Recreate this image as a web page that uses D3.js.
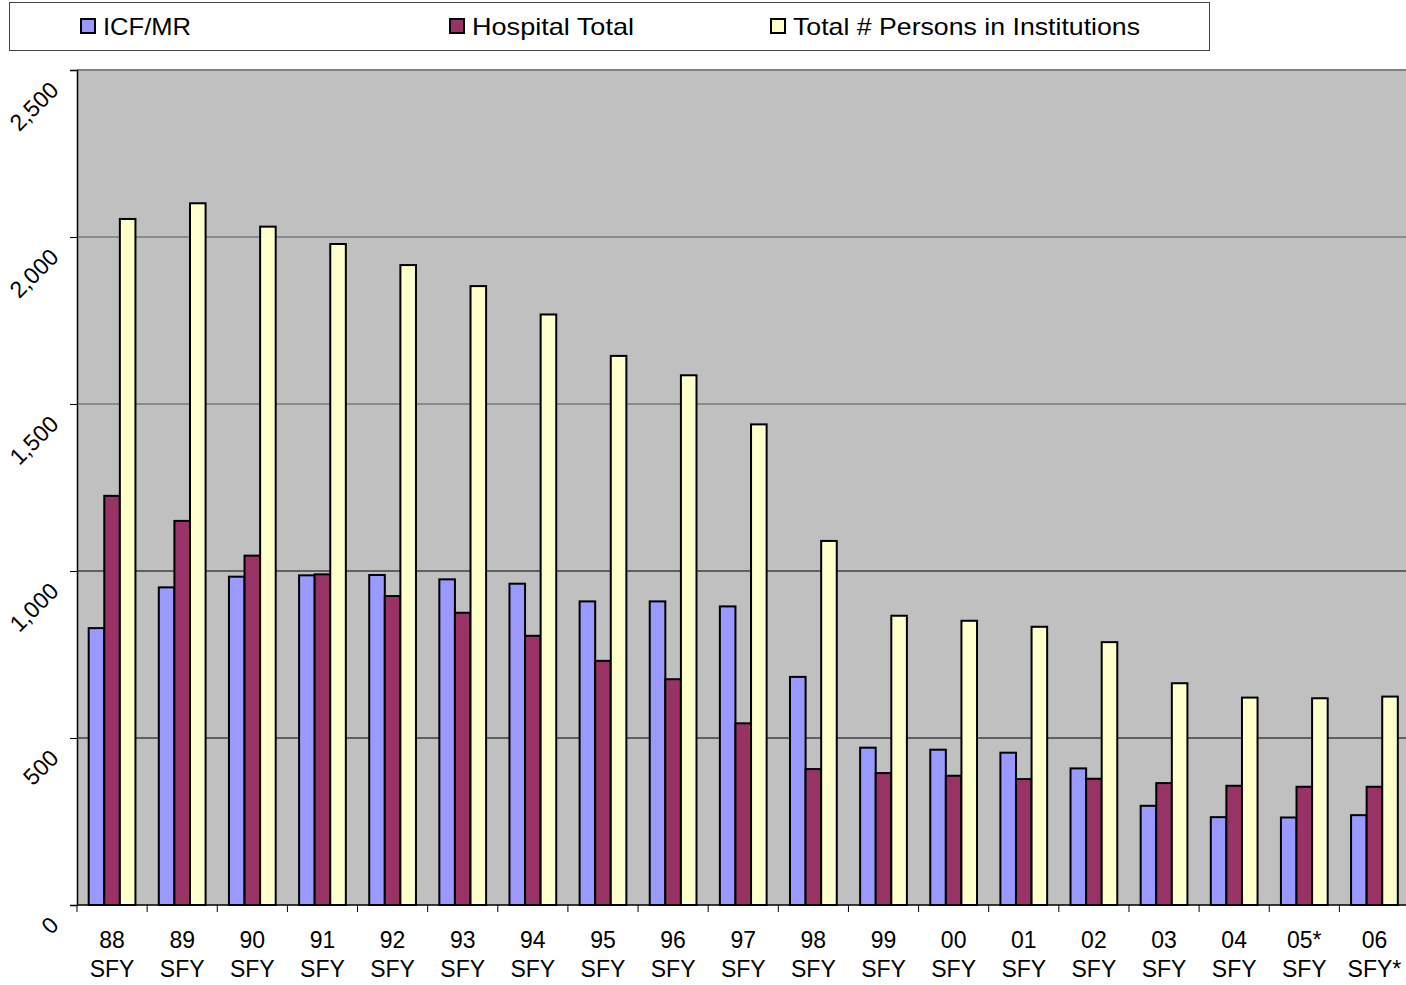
<!DOCTYPE html>
<html>
<head>
<meta charset="utf-8">
<script src="https://cdn.jsdelivr.net/npm/d3@7"></script>
<style>
  html, body { margin: 0; padding: 0; background: #fff; }
  svg { display: block; font-family: "Liberation Sans", Arial, sans-serif; }
</style>
</head>
<body>
<svg id="chart" width="1406" height="985"></svg>
<script>
// Fiscal years along the x axis (two-line labels)
const years = ["88", "89", "90", "91", "92", "93", "94", "95", "96", "97",
               "98", "99", "00", "01", "02", "03", "04", "05*", "06"];
const yearSuffix = ["SFY", "SFY", "SFY", "SFY", "SFY", "SFY", "SFY", "SFY", "SFY", "SFY",
                    "SFY", "SFY", "SFY", "SFY", "SFY", "SFY", "SFY", "SFY", "SFY*"];

// Series
const seriesNames = ["ICF/MR", "Hospital Total", "Total # Persons in Institutions"];
const icfMR = [829, 951, 983, 987, 988, 975, 962, 909, 909, 894,
               683, 471, 465, 456, 409, 297, 263, 262, 269];
const hospitalTotal = [1225, 1150, 1046, 990, 925, 875, 806, 731, 676, 544,
                       407, 395, 387, 377, 378, 365, 357, 354, 354];
const totalInstitutions = [2054, 2101, 2031, 1979, 1916, 1853, 1768, 1644, 1586, 1439,
                           1090, 866, 851, 833, 787, 664, 621, 619, 624];

// Y axis ticks
const yTicks = [0, 500, 1000, 1500, 2000, 2500];

const seriesValues = [icfMR, hospitalTotal, totalInstitutions];
const seriesColors = ["#9999FF", "#993366", "#FFFFCC"];

const svg = d3.select("#chart");
const plot = { left: 77, top: 70, right: 1409.5, bottom: 905 };

const x0 = d3.scaleBand().domain(years).range([plot.left, plot.right]).padding(0);
const w = x0.bandwidth();
const barW = w / 4.5;
const x1 = d3.scaleBand().domain(seriesNames)
  .range([barW * 0.75, barW * 3.75]).padding(0);
const y = d3.scaleLinear().domain([0, 2500]).range([plot.bottom, plot.top]);

// plot background
svg.append("rect")
  .attr("x", plot.left).attr("y", plot.top)
  .attr("width", plot.right - plot.left).attr("height", plot.bottom - plot.top)
  .attr("fill", "#C0C0C0");

// gridlines
svg.append("g").selectAll("line")
  .data(yTicks.filter(d => d > 0))
  .join("line")
  .attr("x1", plot.left).attr("x2", plot.right)
  .attr("y1", d => y(d)).attr("y2", d => y(d))
  .attr("stroke", d => d === 2500 ? "#808080" : "#000")
  .attr("stroke-width", d => d === 2500 ? 2 : 1)
  .attr("opacity", d => (d === 2000 || d === 1500) ? 0.55 : 1);

// bars
const groups = svg.append("g").selectAll("g")
  .data(years)
  .join("g")
  .attr("transform", d => `translate(${x0(d)},0)`);

groups.selectAll("rect")
  .data((d, i) => seriesNames.map((s, k) => ({ s, k, v: seriesValues[k][i] })))
  .join("rect")
  .attr("x", d => x1(d.s))
  .attr("width", x1.bandwidth())
  .attr("y", d => y(d.v))
  .attr("height", d => y(0) - y(d.v))
  .attr("fill", d => seriesColors[d.k])
  .attr("stroke", "#000")
  .attr("stroke-width", 2);

// y axis
const yAxis = svg.append("g")
  .attr("transform", `translate(${plot.left},0)`)
  .call(d3.axisLeft(y).tickValues(yTicks).tickSize(7).tickFormat(d3.format(",")));
yAxis.select(".domain").attr("stroke", "#000").attr("stroke-width", 1.5);
yAxis.selectAll(".tick line").attr("stroke", "#000");
yAxis.selectAll(".tick text")
  .attr("font-family", "Liberation Sans, Arial, sans-serif")
  .attr("font-size", 23)
  .attr("fill", "#000")
  .attr("text-anchor", "end")
  .attr("x", null).attr("dy", null)
  .attr("transform", "translate(-17,21) rotate(-45)");

// x axis line
svg.append("line")
  .attr("x1", plot.left).attr("x2", plot.right)
  .attr("y1", plot.bottom).attr("y2", plot.bottom)
  .attr("stroke", "#000").attr("stroke-width", 1.5);

// x tick marks at category boundaries
svg.append("g").selectAll("line")
  .data(years)
  .join("line")
  .attr("x1", d => x0(d)).attr("x2", d => x0(d))
  .attr("y1", plot.bottom).attr("y2", plot.bottom + 7)
  .attr("stroke", "#000");

// x labels
const xl = svg.append("g").selectAll("text")
  .data(years)
  .join("text")
  .attr("text-anchor", "middle")
  .attr("font-size", 23)
  .attr("fill", "#000");
xl.append("tspan")
  .attr("x", d => x0(d) + w / 2).attr("y", 948)
  .text(d => d);
xl.append("tspan")
  .attr("x", d => x0(d) + w / 2).attr("y", 977)
  .text((d, i) => yearSuffix[i]);

// legend
const legend = svg.append("g");
legend.append("rect")
  .attr("x", 9.5).attr("y", 2.5).attr("width", 1200).attr("height", 48)
  .attr("fill", "#fff").attr("stroke", "#444").attr("stroke-width", 1);
const legendX = [81, 450, 771];
const legendTextW = [88, 162, 347];
const items = legend.selectAll("g.item")
  .data(seriesNames)
  .join("g")
  .attr("class", "item")
  .attr("transform", (d, i) => `translate(${legendX[i]},19)`);
items.append("rect")
  .attr("width", 14).attr("height", 14)
  .attr("fill", (d, i) => seriesColors[i])
  .attr("stroke", "#000").attr("stroke-width", 2);
items.append("text")
  .attr("x", 22).attr("y", 16)
  .attr("font-size", 24)
  .attr("fill", "#000")
  .attr("textLength", (d, i) => legendTextW[i])
  .attr("lengthAdjust", "spacingAndGlyphs")
  .text(d => d);
</script>
</body>
</html>
